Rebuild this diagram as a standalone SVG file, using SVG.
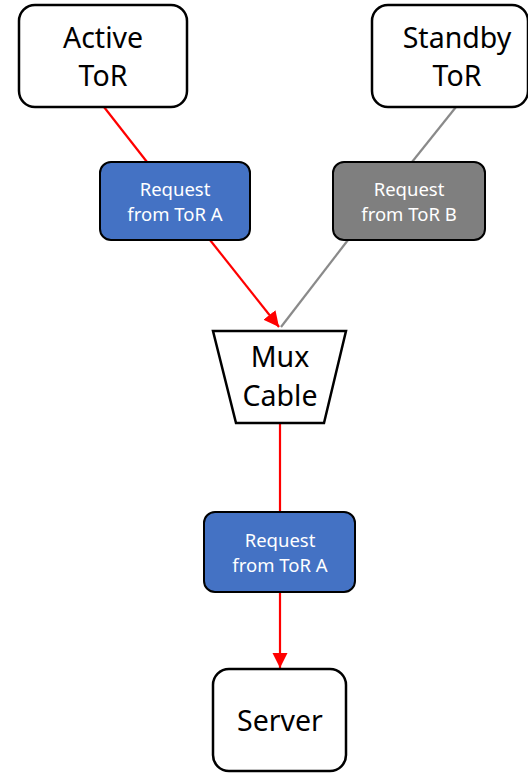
<svg xmlns="http://www.w3.org/2000/svg" width="528" height="773" viewBox="0 0 528 773">
  <style>
    .box { fill: #ffffff; stroke: #000000; stroke-width: 2.5; }
    .msg-a { fill: #4472c4; stroke: #000000; stroke-width: 2; }
    .msg-b { fill: #7f7f7f; stroke: #000000; stroke-width: 2; }
    .big { font-family: "Noto Sans", "Open Sans", "DejaVu Sans", sans-serif; font-size: 28.5px; fill: #000000; text-anchor: middle; }
    .small { font-family: "Noto Sans", "Open Sans", "DejaVu Sans", sans-serif; font-size: 18.5px; fill: #ffffff; text-anchor: middle; }
    .red { stroke: #ff0000; stroke-width: 2.2; fill: none; }
    .grey { stroke: #8a8a8a; stroke-width: 2.2; fill: none; }
  </style>
  <defs>
    <marker id="arrow-red" viewBox="0 0 10 10" refX="10" refY="5" markerWidth="7" markerHeight="7" markerUnits="strokeWidth" orient="auto">
      <path d="M0,0 L10,5 L0,10 Z" fill="#ff0000"/>
    </marker>
  </defs>

  <!-- connectors -->
  <g id="connectors">
    <line class="red" x1="104" y1="107" x2="147" y2="162"/>
    <line class="red" x1="210" y1="240" x2="279" y2="327" marker-end="url(#arrow-red)"/>
    <line class="grey" x1="456" y1="107" x2="412" y2="162"/>
    <line class="grey" x1="348" y1="240" x2="281" y2="327"/>
    <line class="red" x1="280" y1="423" x2="280" y2="512"/>
    <line class="red" x1="280" y1="592" x2="280" y2="668" marker-end="url(#arrow-red)"/>
  </g>

  <g id="active-tor">
    <rect class="box" x="19" y="5" width="168" height="102" rx="16"/>
    <text class="big" x="103" y="48">Active</text>
    <text class="big" x="103" y="86">ToR</text>
  </g>

  <g id="standby-tor">
    <rect class="box" x="372" y="5" width="156" height="102" rx="16"/>
    <text class="big" x="457" y="48">Standby</text>
    <text class="big" x="457" y="86">ToR</text>
  </g>

  <g id="request-a-top">
    <rect class="msg-a" x="100" y="162" width="150" height="78" rx="11"/>
    <text class="small" x="175" y="196">Request</text>
    <text class="small" x="175" y="221">from ToR A</text>
  </g>

  <g id="request-b">
    <rect class="msg-b" x="333" y="162" width="152" height="78" rx="11"/>
    <text class="small" x="409" y="196">Request</text>
    <text class="small" x="409" y="221">from ToR B</text>
  </g>

  <g id="mux-cable">
    <polygon class="box" points="213,331 346,331 324,423 236,423"/>
    <text class="big" x="280" y="367">Mux</text>
    <text class="big" x="280" y="406">Cable</text>
  </g>

  <g id="request-a-bottom">
    <rect class="msg-a" x="204" y="512" width="151" height="80" rx="11"/>
    <text class="small" x="280" y="547">Request</text>
    <text class="small" x="280" y="572">from ToR A</text>
  </g>

  <g id="server">
    <rect class="box" x="213" y="669" width="133" height="102" rx="16"/>
    <text class="big" x="280" y="731">Server</text>
  </g>
</svg>
